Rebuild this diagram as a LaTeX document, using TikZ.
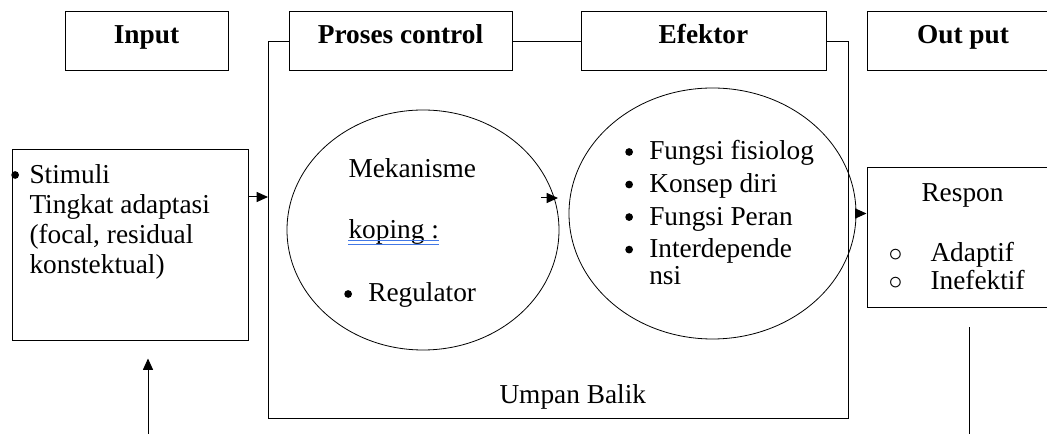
\documentclass[tikz,border=0pt]{standalone}
\usepackage{fontspec}
\setmainfont{Liberation Serif}
\usetikzlibrary{arrows.meta,shapes.geometric}
\newcommand\pxu{0.75pt}
\newcommand\diagfont{\fontsize{20.5}{24}\selectfont}
\newcommand\blt{\tikz[baseline=-6pt]\fill (0,0) circle (2.9pt);}
\definecolor{spellblue}{RGB}{66,120,230}
\tikzset{
  hdr/.style={draw, font=\diagfont\bfseries, minimum width=#1*\pxu, minimum height=59*\pxu,
    inner sep=0pt, text height=0.6em, text depth=0.28em},
  panel/.style={draw},
  oval/.style={draw, ellipse, line width=0.6pt, inner sep=0pt},
  txt/.style={anchor=base west, inner sep=0pt},
  flow/.style={-{Triangle[length=8.5pt,width=7.5pt]}},
}
\begin{document}
\begin{tikzpicture}[x=0.75pt, y=-0.75pt, line width=0.75pt, font=\diagfont]
			\clip (0,0) rectangle (1047,434);
			% header boxes
			\node[hdr=163] (input) at (146.5,41.5) {Input};
			\node[hdr=223] (proses) at (400.5,41.5) {Proses control};
			\node[hdr=245] (efektor) at (703.5,41.5) {Efektor};
			\node[hdr=192] (output) at (963,41.5) {Out put};
			% boxes and ovals
			\node[panel, minimum width=236*\pxu, minimum height=191*\pxu] (stimuli) at (130,245.5) {};
			\node[oval, minimum width=272*\pxu, minimum height=240*\pxu] (koping oval) at (423,230) {};
			\node[oval, minimum width=287*\pxu, minimum height=251*\pxu] (efek oval) at (712.5,213.5) {};
			\node[panel, minimum width=192*\pxu, minimum height=140*\pxu] (respon box) at (963,238) {};
			% texts
			\node[txt] (stimdot) at (11,183) {\blt};
			\node[txt, font=\fontsize{20.5}{22.5}\selectfont] (stimtext) at (29,184)
				{\begin{tabular}[t]{@{}l@{}}Stimuli\\Tingkat adaptasi\\(focal, residual\\konstektual)\end{tabular}};
			\node[txt] (mekanisme) at (348,178) {Mekanisme};
			\node[txt] (koping) at (348,239) {koping :};
			\node[txt] (regulator) at (344,302) {\makebox[18pt][l]{\blt}Regulator};
			\node[txt, font=\fontsize{20.5}{24.4}\selectfont] (fungsi) at (625,160)
				{\begin{tabular}[t]{@{}l@{}l@{}}\makebox[18pt][l]{\blt} & Fungsi fisiolog\\
				\makebox[18pt][l]{\blt} & Konsep diri\\
				\makebox[18pt][l]{\blt} & Fungsi Peran\\
				\makebox[18pt][l]{\blt} & Interdepende\\[-4.1pt]
				& nsi\end{tabular}};
			\node[txt] (respon) at (921,202) {Respon};
			\node[txt, font=\fontsize{20.5}{21}\selectfont] (adaptif) at (888,262)
				{\begin{tabular}[t]{@{}l@{}l@{}}\makebox[31.5pt][l]{$\circ$} & Adaptif\\
				\makebox[31.5pt][l]{$\circ$} & Inefektif\end{tabular}};
			\node[txt] (umpan) at (499,404) {Umpan Balik};
			\draw[spellblue, line width=0.5pt] ([yshift=-1.1pt]koping.base west) -- ([yshift=-1.1pt]koping.base east);
			\draw[spellblue, line width=0.5pt] ([yshift=-3.7pt]koping.base west) -- ([yshift=-3.7pt]koping.base east);
			% feedback frame
			\coordinate (frame sw) at (268,419);
			\coordinate (frame se) at (848,419);
			\draw (proses.west) -| (frame sw) -- (frame se) |- (efektor.east);
			\draw (proses.east) -- (efektor.west);
			% arrows
			\coordinate (frame in) at (268,197);
			\coordinate (koping in) at (558,198);
			\coordinate (koping out) at (541,198);
			\coordinate (feed) at (148,434);
			\coordinate (out foot) at (969,434);
			\draw[flow] (stimuli.east |- frame in) -- (frame in);
			\draw[flow] (koping out) -- (koping in);
			\draw[flow] (efek oval.east) -- (efek oval.east -| respon box.west);
			\draw[flow, shorten >=12.75pt] (feed) -- (feed |- stimuli.south);
			\draw[shorten >=14.25pt] (out foot) -- (out foot |- respon box.south);
\end{tikzpicture}
\end{document}
